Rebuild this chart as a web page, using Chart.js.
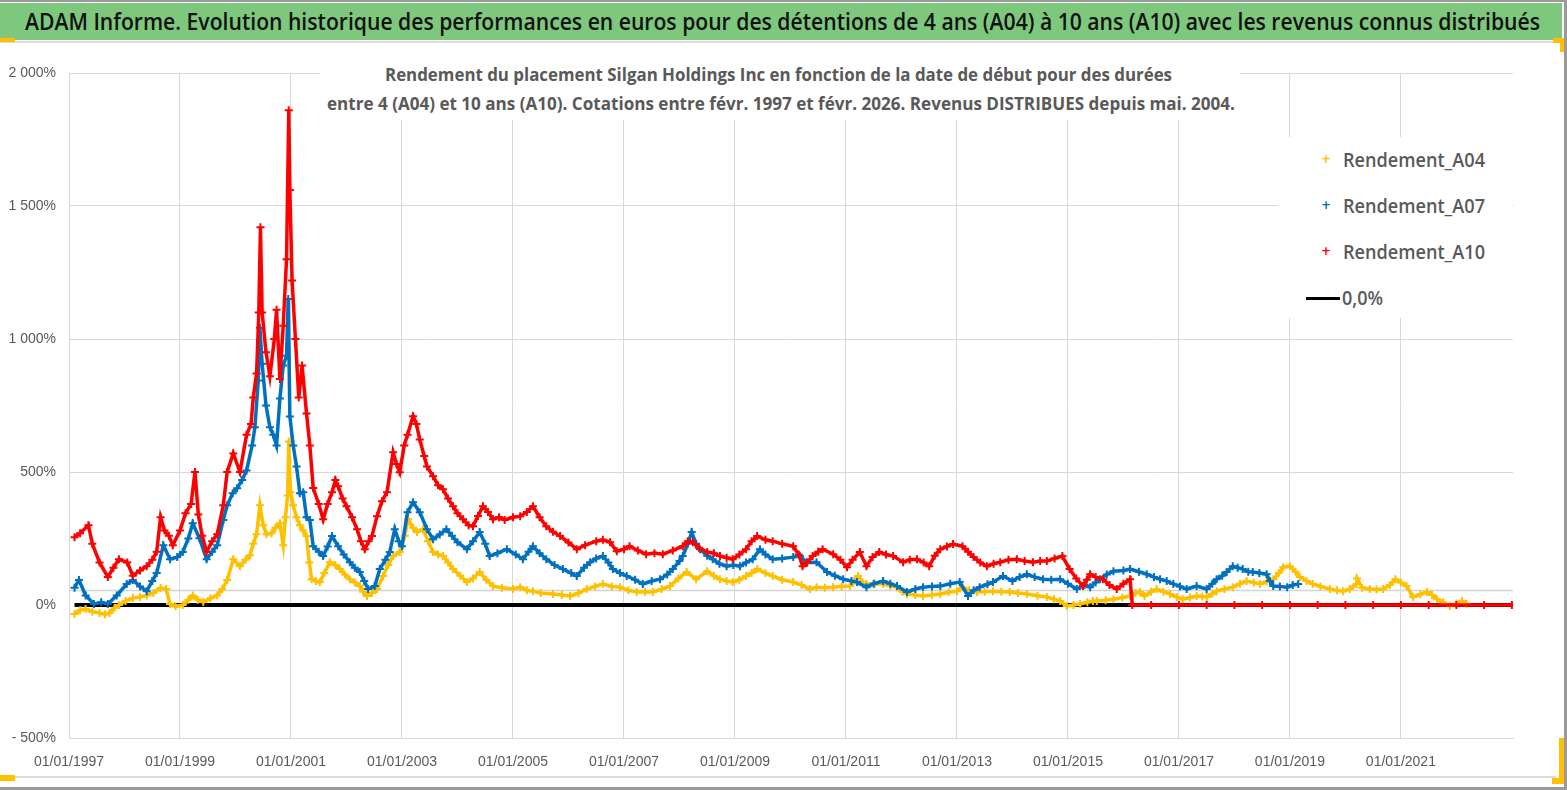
<!DOCTYPE html>
<html>
<head>
<meta charset="utf-8">
<script src="https://cdn.jsdelivr.net/npm/chart.js@4.4.1/dist/chart.umd.min.js"></script>
<style>
body { margin: 0; background: #fff; overflow: hidden; }
#page { position: relative; width: 1567px; height: 790px; font-family: "Open Sans", sans-serif; }
#chart { position: absolute; left: 0; top: 0; }
.fit { position: absolute; white-space: nowrap; display: inline-block; transform-origin: left center; }
.deco { position: absolute; }
#titlebar { position: absolute; left: 0; top: 3px; width: 1562px; height: 37px; background: #7ec87e; }
#subbox { position: absolute; left: 320px; top: 58px; width: 920px; height: 62px; background: #fff; }
#legbox { position: absolute; left: 1278px; top: 137px; width: 234px; height: 181px; background: #fff; }
.sub { font-weight: 700; font-size: 18px; color: #595959; line-height: 22px; }
.leg { font-size: 20px; font-weight: 600; color: #595959; line-height: 26px; }
</style>
</head>
<body>
<div id="page">
  <canvas id="chart" width="1567" height="790"></canvas>

  <div id="titlebar"></div>
  <div class="fit" id="title" data-w="1515" style="left:25px;top:3px;line-height:37px;font-size:23px;font-weight:600;color:#111;">ADAM Informe. Evolution historique des performances en euros pour des détentions de 4 ans (A04) à 10 ans (A10) avec les revenus connus distribués</div>

  <div id="subbox"></div>
  <div class="fit sub" data-w="787" style="left:385px;top:63px;">Rendement du placement Silgan Holdings Inc en fonction de la date de début pour des durées</div>
  <div class="fit sub" data-w="908" style="left:327px;top:92px;">entre 4 (A04) et 10 ans (A10).  Cotations entre févr. 1997 et févr. 2026. Revenus DISTRIBUES depuis mai. 2004.</div>

  <div id="legbox"></div>

  <!-- cadre et poignées -->
  <div class="deco" style="left:0;top:0;width:1567px;height:2px;background:#9a9a9a"></div>
  <div class="deco" style="left:0;top:41px;width:1560px;height:2px;background:#dcdcdc"></div>
  <div class="deco" style="left:0;top:38px;width:15px;height:4px;background:#ffc000"></div>
  <div class="deco" style="left:1553px;top:38px;width:12px;height:5px;background:#ffc000"></div>
  <div class="deco" style="left:1560px;top:40px;width:4px;height:12px;background:#ffc000"></div>
  <div class="deco" style="left:0;top:776px;width:1556px;height:2px;background:#dcdcdc"></div>
  <div class="deco" style="left:0;top:775px;width:15px;height:6px;background:#ffc000"></div>
  <div class="deco" style="left:1559px;top:738px;width:5px;height:46px;background:#ffc000"></div>
  <div class="deco" style="left:1552px;top:778px;width:12px;height:6px;background:#ffc000"></div>
  <div class="deco" style="left:1564px;top:0;width:3px;height:790px;background:#9a9a9a"></div>
  <div class="deco" style="left:0;top:787px;width:1567px;height:3px;background:#9a9a9a"></div>
</div>

<script>
// Rendement_A04 : date de début (années décimales) et rendement en %
const datesA04 = [1997.10,1997.20,1997.30,1997.42,1997.55,1997.65,1997.73,1997.82,1997.90,1998.02,1998.15,1998.28,1998.40,1998.52,1998.65,1998.75,
  1998.82,1998.92,1999.05,1999.15,1999.23,1999.32,1999.42,1999.55,1999.67,1999.76,1999.85,1999.96,2000.08,2000.18,2000.26,2000.32,2000.38,2000.44,
  2000.50,2000.56,2000.65,2000.72,2000.80,2000.86,2000.90,2000.94,2000.96,2000.99,2001.04,2001.10,2001.16,2001.22,2001.28,2001.33,2001.37,2001.45,
  2001.52,2001.60,2001.70,2001.80,2001.88,2001.97,2002.06,2002.15,2002.24,2002.30,2002.37,2002.46,2002.55,2002.66,2002.75,2002.84,2002.96,2003.05,
  2003.11,2003.20,2003.27,2003.38,2003.47,2003.56,2003.65,2003.74,2003.83,2003.92,2004.05,2004.17,2004.28,2004.40,2004.52,2004.64,2004.80,2005.00,
  2005.13,2005.25,2005.36,2005.50,2005.72,2005.88,2006.03,2006.18,2006.33,2006.48,2006.62,2006.78,2006.93,2007.08,2007.23,2007.38,2007.52,2007.68,
  2007.83,2007.98,2008.13,2008.30,2008.50,2008.62,2008.73,2008.85,2008.96,2009.08,2009.20,2009.30,2009.40,2009.55,2009.68,2009.85,2010.05,2010.20,
  2010.35,2010.47,2010.62,2010.77,2010.92,2011.07,2011.15,2011.22,2011.30,2011.37,2011.52,2011.67,2011.80,2011.92,2012.02,2012.10,2012.25,2012.39,
  2012.55,2012.70,2012.85,2013.00,2013.10,2013.22,2013.36,2013.50,2013.65,2013.80,2013.95,2014.10,2014.26,2014.45,2014.62,2014.75,2014.86,2014.98,
  2015.10,2015.22,2015.35,2015.45,2015.52,2015.68,2015.82,2015.98,2016.12,2016.22,2016.30,2016.38,2016.50,2016.60,2016.72,2016.84,2016.96,2017.07,
  2017.20,2017.32,2017.42,2017.50,2017.60,2017.68,2017.82,2017.97,2018.10,2018.22,2018.35,2018.46,2018.58,2018.70,2018.80,2018.88,2019.00,2019.10,
  2019.18,2019.30,2019.41,2019.55,2019.72,2019.85,2019.96,2020.08,2020.20,2020.21,2020.30,2020.44,2020.56,2020.68,2020.80,2020.90,2021.00,2021.10,
  2021.22,2021.35,2021.47,2021.56,2021.65,2021.76,2021.88,2022.00,2022.10,2022.18];
const valuesA04 = [-34,-20,-15,-25,-30,-35,-30,-10,0,15,26,30,36,45,64,60,
  4,-5,0,20,36,20,11,25,36,60,94,172,146,170,187,230,266,375,
  300,266,270,290,307,225,330,412,615,424,375,330,300,280,259,160,97,90,
  86,120,161,150,135,115,97,85,71,50,34,45,60,109,150,184,199,260,
  322,290,274,285,240,199,190,184,160,135,110,86,100,124,95,71,65,60,
  67,55,52,45,41,38,34,45,60,70,79,70,67,55,49,50,49,60,
  71,100,124,97,127,110,97,90,86,95,109,120,135,120,109,95,86,75,
  60,67,65,67,70,71,90,109,85,79,80,79,72,67,50,41,38,34,
  38,41,48,52,67,55,49,50,52,50,49,45,41,35,30,22,15,-4,
  0,4,10,15,15,18,22,28,34,45,49,34,50,60,50,41,30,22,
  28,34,32,30,42,52,60,67,80,90,84,79,88,97,120,142,146,125,
  105,90,79,70,60,55,52,60,79,100,65,60,58,60,75,97,85,71,
  30,40,49,38,22,10,-4,5,15,5];

// Rendement_A07
const datesA07 = [1997.10,1997.18,1997.30,1997.45,1997.58,1997.70,1997.86,1998.04,1998.15,1998.28,1998.40,1998.50,1998.58,1998.70,1998.82,1998.95,
  1999.05,1999.15,1999.23,1999.35,1999.48,1999.58,1999.67,1999.78,1999.85,1999.95,2000.03,2000.12,2000.20,2000.30,2000.35,2000.41,2000.44,2000.48,
  2000.55,2000.62,2000.68,2000.74,2000.80,2000.86,2000.92,2000.95,2000.98,2001.04,2001.10,2001.16,2001.22,2001.28,2001.34,2001.40,2001.50,2001.58,
  2001.66,2001.74,2001.85,2001.95,2002.06,2002.15,2002.24,2002.32,2002.39,2002.51,2002.60,2002.70,2002.78,2002.87,2002.94,2003.00,2003.10,2003.20,
  2003.32,2003.45,2003.56,2003.68,2003.80,2003.90,2004.00,2004.17,2004.28,2004.40,2004.50,2004.58,2004.72,2004.89,2005.05,2005.18,2005.28,2005.36,
  2005.48,2005.60,2005.75,2005.90,2006.05,2006.15,2006.28,2006.39,2006.50,2006.62,2006.72,2006.80,2006.93,2007.05,2007.20,2007.34,2007.50,2007.65,
  2007.78,2007.88,2008.00,2008.06,2008.15,2008.22,2008.30,2008.37,2008.50,2008.60,2008.72,2008.85,2008.97,2009.09,2009.20,2009.32,2009.45,2009.55,
  2009.68,2009.85,2010.05,2010.17,2010.30,2010.47,2010.66,2010.80,2010.95,2011.10,2011.20,2011.37,2011.50,2011.67,2011.80,2011.92,2012.10,2012.25,
  2012.39,2012.55,2012.70,2012.88,2013.05,2013.20,2013.30,2013.41,2013.55,2013.65,2013.83,2014.00,2014.13,2014.26,2014.40,2014.55,2014.70,2014.86,
  2015.00,2015.16,2015.30,2015.40,2015.50,2015.58,2015.70,2015.82,2016.00,2016.12,2016.28,2016.42,2016.55,2016.66,2016.78,2016.90,2017.02,2017.14,
  2017.32,2017.50,2017.60,2017.68,2017.78,2017.86,2017.97,2018.06,2018.15,2018.25,2018.33,2018.45,2018.58,2018.64,2018.70,2018.82,2018.95,2019.05,
  2019.15];
const valuesA07 = [65,94,36,4,10,4,36,79,94,70,52,90,120,225,172,180,
  199,250,307,251,172,200,225,320,375,420,439,470,506,600,668,844,1042,907,
  750,668,640,600,776,900,937,1150,709,600,521,420,424,330,320,221,200,184,
  220,259,221,190,161,140,124,90,60,71,135,170,199,285,240,221,349,386,
  349,285,247,265,285,260,236,210,240,274,230,184,195,210,190,172,200,221,
  195,172,150,135,120,109,140,161,175,184,160,135,120,109,95,79,90,97,
  115,135,165,184,230,274,230,210,185,172,155,146,150,146,160,172,210,190,
  172,175,180,184,160,161,124,110,97,90,86,67,80,90,80,71,49,60,
  67,70,71,80,86,34,55,67,78,86,109,90,105,116,105,97,95,97,
  80,60,75,67,85,97,115,127,130,135,125,116,105,97,90,79,70,60,
  71,60,80,97,110,124,146,140,135,125,124,120,116,90,71,70,67,75,
  79];

// Rendement_A10 (valeurs nulles après 2016)
const datesA10 = [1997.10,1997.20,1997.35,1997.42,1997.55,1997.70,1997.80,1997.90,1998.05,1998.15,1998.28,1998.40,1998.50,1998.58,1998.65,1998.72,
  1998.80,1998.87,1999.00,1999.10,1999.20,1999.27,1999.33,1999.40,1999.48,1999.58,1999.67,1999.78,1999.85,1999.96,2000.08,2000.20,2000.28,2000.32,
  2000.38,2000.42,2000.45,2000.48,2000.55,2000.62,2000.70,2000.74,2000.80,2000.86,2000.92,2000.96,2000.98,2001.02,2001.08,2001.14,2001.20,2001.28,
  2001.34,2001.40,2001.50,2001.58,2001.66,2001.74,2001.80,2001.85,2001.93,2002.00,2002.10,2002.19,2002.26,2002.33,2002.40,2002.46,2002.55,2002.64,
  2002.73,2002.84,2002.90,2002.96,2003.04,2003.10,2003.20,2003.26,2003.32,2003.40,2003.45,2003.56,2003.65,2003.74,2003.83,2003.92,2004.00,2004.10,
  2004.20,2004.28,2004.37,2004.46,2004.55,2004.64,2004.75,2004.85,2005.00,2005.13,2005.25,2005.36,2005.48,2005.60,2005.72,2005.85,2006.00,2006.15,
  2006.30,2006.50,2006.62,2006.75,2006.87,2007.00,2007.10,2007.25,2007.40,2007.55,2007.70,2007.88,2008.06,2008.15,2008.24,2008.35,2008.50,2008.62,
  2008.73,2008.85,2008.96,2009.08,2009.20,2009.30,2009.40,2009.55,2009.68,2009.85,2010.05,2010.15,2010.22,2010.30,2010.40,2010.50,2010.58,2010.77,
  2010.90,2011.02,2011.12,2011.25,2011.37,2011.48,2011.60,2011.72,2011.85,2012.03,2012.15,2012.28,2012.40,2012.50,2012.60,2012.70,2012.82,2012.93,
  2013.10,2013.20,2013.30,2013.42,2013.54,2013.66,2013.78,2013.93,2014.08,2014.22,2014.37,2014.50,2014.62,2014.76,2014.90,2015.03,2015.15,2015.27,
  2015.34,2015.40,2015.50,2015.63,2015.75,2015.88,2016.00,2016.12,
  2016.16,2016.50,2017.00,2017.50,2018.00,2018.50,2019.00,2019.50,2020.00,2020.50,2021.00,2021.50,2022.00,2022.50,2023.00];
const valuesA10 = [255,270,300,230,160,105,140,172,160,110,130,146,170,200,330,280,
  260,225,280,345,380,500,340,260,200,240,266,375,500,570,500,640,680,780,
  870,1100,1420,1100,950,860,1000,1110,850,1050,1300,1860,1560,1220,1000,780,900,720,
  600,440,380,322,380,424,470,446,400,371,330,285,240,210,240,259,334,390,
  424,574,530,499,600,640,710,680,622,560,521,484,450,435,400,371,345,322,
  300,296,335,371,350,322,330,320,330,334,350,371,330,296,275,259,235,210,
  225,240,245,236,202,210,221,205,191,195,191,205,221,240,236,215,199,195,
  184,178,172,190,210,240,259,245,240,230,221,190,146,160,184,200,210,191,
  170,142,170,199,146,180,199,190,184,161,170,172,160,146,185,210,220,229,
  221,200,180,160,146,155,161,170,172,165,161,165,165,175,184,135,100,71,
  95,116,105,97,75,60,80,97,
  0,0,0,0,0,0,0,0,0,0,0,0,0,0,0];

// Ligne 0,0%
const datesZero = [1997.10, 2023.00];
const valuesZero = [0, 0];

// Axes
const yTicks = [-500, 0, 500, 1000, 1500, 2000];
const xTickYears = [1997, 1999, 2001, 2003, 2005, 2007, 2009, 2011, 2013, 2015, 2017, 2019, 2021];
const axisLineValue = 57; // ligne grise horizontale près de 0

function toPoints(dates, values) {
    return dates.map(function(d, i) { return { x: d, y: values[i] }; });
}

function fmtPct(v) {
    const s = String(Math.abs(v)).replace(/\B(?=(\d{3})+(?!\d))/g, ' ');
    return (v < 0 ? '- ' : '') + s + '%';
}

const series = [
    { label: 'Rendement_A04', dates: datesA04, values: valuesA04, color: '#ffc000', order: 2 },
    { label: 'Rendement_A07', dates: datesA07, values: valuesA07, color: '#0070c0', order: 1 },
    { label: 'Rendement_A10', dates: datesA10, values: valuesA10, color: '#ff0000', order: 0 }
];

const datasets = series.map(function(s) {
    return {
        label: s.label,
        data: toPoints(s.dates, s.values),
        borderColor: s.color,
        backgroundColor: s.color,
        borderWidth: 3.5,
        pointStyle: 'cross',
        pointRadius: 4,
        pointBorderWidth: 2,
        pointBorderColor: s.color,
        tension: 0,
        order: s.order
    };
});
datasets.push({
    label: '0,0%',
    data: toPoints(datesZero, valuesZero),
    borderColor: '#000',
    borderWidth: 4,
    pointRadius: 0,
    order: 3
});

// ligne grise horizontale sous les données
const axisLinePlugin = {
    id: 'axisLine',
    beforeDatasetsDraw(chart) {
        const { ctx, chartArea, scales } = chart;
        const y = Math.round(scales.y.getPixelForValue(axisLineValue)) + 0.5;
        ctx.save();
        ctx.strokeStyle = '#d4d4d4';
        ctx.lineWidth = 1.5;
        ctx.beginPath();
        ctx.moveTo(chartArea.left, y);
        ctx.lineTo(chartArea.right, y);
        ctx.stroke();
        ctx.restore();
    }
};

const chart = new Chart(document.getElementById('chart'), {
    type: 'line',
    data: { datasets: datasets },
    plugins: [axisLinePlugin],
    options: {
        responsive: false,
        animation: false,
        layout: { padding: { top: 73, right: 54, bottom: 0, left: 0 } },
        plugins: { legend: { display: false }, tooltip: { enabled: false } },
        scales: {
            x: {
                type: 'linear',
                min: 1997,
                max: 2023.02,
                afterBuildTicks: function(scale) {
                    scale.ticks = xTickYears.map(function(v) { return { value: v }; });
                },
                afterFit: function(scale) { scale.height = 52; },
                ticks: {
                    autoSkip: false,
                    maxRotation: 0,
                    padding: 16,
                    color: '#595959',
                    font: { family: 'Liberation Sans', size: 14 },
                    callback: function(v) { return '01/01/' + v; }
                },
                grid: { color: '#d9d9d9', lineWidth: 1, drawTicks: false },
                border: { display: true, color: '#d9d9d9' }
            },
            y: {
                min: -500,
                max: 2000,
                afterBuildTicks: function(scale) {
                    scale.ticks = yTicks.map(function(v) { return { value: v }; });
                },
                afterFit: function(scale) { scale.width = 69; },
                ticks: {
                    padding: 13,
                    color: '#595959',
                    font: { family: 'Liberation Sans', size: 14 },
                    callback: function(v) { return fmtPct(v); }
                },
                grid: {
                    color: function(c) { return c.tick && c.tick.value === 0 ? 'rgba(0,0,0,0)' : '#d9d9d9'; },
                    lineWidth: 1,
                    drawTicks: false
                },
                border: { display: true, color: '#d9d9d9' }
            }
        }
    }
});

// Légende HTML dans l'encadré blanc
const legbox = document.getElementById('legbox');
chart.data.datasets.forEach(function(ds, i) {
    const cy = 23 + 46 * i;
    if (ds.pointRadius === 0) {
        const line = document.createElement('div');
        line.className = 'deco';
        line.style.cssText = 'left:28px;top:' + (cy - 1.5) + 'px;width:34px;height:3.5px;background:' + ds.borderColor;
        legbox.appendChild(line);
        const t = document.createElement('div');
        t.className = 'fit leg';
        t.dataset.w = '41';
        t.style.left = '64px';
        t.style.top = (cy - 13) + 'px';
        t.textContent = ds.label;
        legbox.appendChild(t);
    } else {
        const m = document.createElement('div');
        m.className = 'deco';
        m.style.cssText = 'left:43px;top:' + (cy - 5) + 'px;width:8px;height:8px;color:' + ds.borderColor +
            ';font:bold 12px "DejaVu Sans";line-height:8px;';
        m.textContent = '+';
        legbox.appendChild(m);
        const t = document.createElement('div');
        t.className = 'fit leg';
        t.dataset.w = '142';
        t.style.left = '65px';
        t.style.top = (cy - 13) + 'px';
        t.textContent = ds.label;
        legbox.appendChild(t);
    }
});

// ajuste la largeur des textes à celle de la référence
document.querySelectorAll('.fit').forEach(function(el) {
    const w = el.getBoundingClientRect().width;
    const target = parseFloat(el.dataset.w);
    if (w > 0 && target) el.style.transform = 'scaleX(' + (target / w) + ')';
});
</script>
</body>
</html>
